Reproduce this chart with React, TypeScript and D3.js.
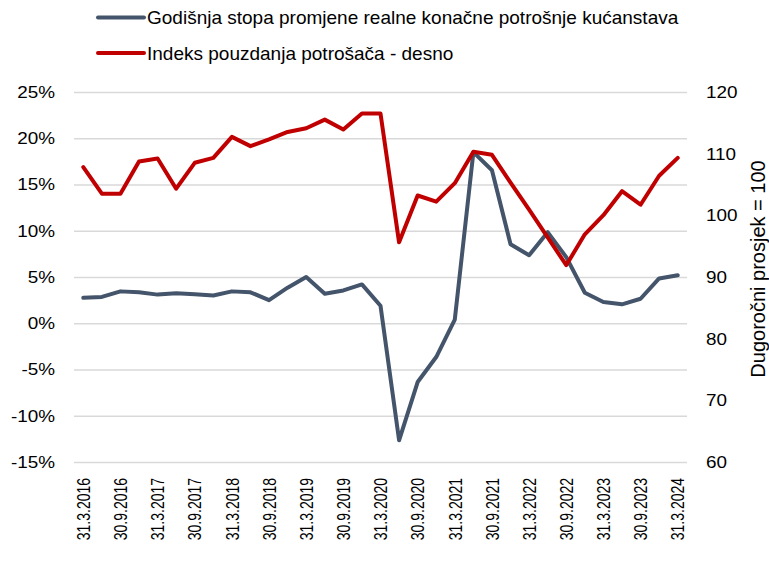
import React from "react";
import * as d3 from "d3";

const categories = [
  "31.3.2016","30.6.2016","30.9.2016","31.12.2016",
  "31.3.2017","30.6.2017","30.9.2017","31.12.2017",
  "31.3.2018","30.6.2018","30.9.2018","31.12.2018",
  "31.3.2019","30.6.2019","30.9.2019","31.12.2019",
  "31.3.2020","30.6.2020","30.9.2020","31.12.2020",
  "31.3.2021","30.6.2021","30.9.2021","31.12.2021",
  "31.3.2022","30.6.2022","30.9.2022","31.12.2022",
  "31.3.2023","30.6.2023","30.9.2023","31.12.2023",
  "31.3.2024",
];

const consumptionGrowth = [
  2.8, 2.9, 3.5, 3.4, 3.15, 3.3, 3.2, 3.05, 3.5, 3.4, 2.55, 3.9,
  5.05, 3.25, 3.6, 4.25, 1.95, -12.6, -6.3, -3.6, 0.45, 18.55,
  16.6, 8.6, 7.4, 9.9, 7.2, 3.35, 2.35, 2.1, 2.7, 4.9, 5.25,
];

const confidenceIndex = [
  107.9, 103.6, 103.6, 108.8, 109.3, 104.4, 108.6, 109.4, 112.8, 111.3,
  112.4, 113.6, 114.2, 115.6, 114.0, 116.6, 116.6, 95.7, 103.3, 102.3,
  105.3, 110.4, 109.9, 105.4, 101.0, 96.5, 92.0, 97.0, 100.1, 104.0,
  101.8, 106.5, 109.4,
];

const leftTicks = [-15, -10, -5, 0, 5, 10, 15, 20, 25];
const rightTicks = [60, 70, 80, 90, 100, 110, 120];

const seriesNames = [
  "Godišnja stopa promjene realne konačne potrošnje kućanstava",
  "Indeks pouzdanja potrošača - desno",
];
const rightTitle = "Dugoročni prosjek = 100";

const W = 769;
const H = 564;
const plotLeft = 74;
const plotRight = 687;
const plotTop = 92.5;
const plotBottom = 462.5;
const BLUE = "#44546A";
const RED = "#C00000";
const FONT = "'Liberation Sans', Arial, sans-serif";
const SX = 1.18;

export default function App() {
  const x = d3
    .scaleBand<string>()
    .domain(categories)
    .range([plotLeft, plotRight]);
  const cx = (c: string) => (x(c) as number) + x.bandwidth() / 2;
  const yL = d3.scaleLinear().domain([-15, 25]).range([plotBottom, plotTop]);
  const yR = d3.scaleLinear().domain([60, 120]).range([plotBottom, plotTop]);

  const blueLine = d3
    .line<number>()
    .x((_, i) => cx(categories[i]))
    .y((d) => yL(d))(consumptionGrowth) as string;
  const redLine = d3
    .line<number>()
    .x((_, i) => cx(categories[i]))
    .y((d) => yR(d))(confidenceIndex) as string;

  return (
    <svg
      width={W}
      height={H}
      style={{ position: "absolute", left: 0, top: 0, background: "#fff" }}
      fontFamily={FONT}
    >
      <rect x={0} y={0} width={W} height={H} fill="#fff" />
      {leftTicks.map((t) => (
        <line
          key={"g" + t}
          x1={plotLeft}
          x2={plotRight}
          y1={yL(t)}
          y2={yL(t)}
          stroke="#D9D9D9"
          strokeWidth={1.6}
        />
      ))}
      {leftTicks.map((t) => (
        <text
          key={"l" + t}
          transform={`translate(55,${yL(t)}) scale(${SX},1)`}
          textAnchor="end"
          dominantBaseline="central"
          fontSize={16}
          fill="#000"
        >
          {t + "%"}
        </text>
      ))}
      {rightTicks.map((t) => (
        <text
          key={"r" + t}
          transform={`translate(706,${yR(t)}) scale(${SX},1)`}
          textAnchor="start"
          dominantBaseline="central"
          fontSize={16}
          fill="#000"
        >
          {t}
        </text>
      ))}
      <text
        transform={`translate(758,269) rotate(-90)`}
        textAnchor="middle"
        dominantBaseline="central"
        fontSize={20}
        fill="#000"
      >
        {rightTitle}
      </text>
      {categories.map((c, i) =>
        i % 2 === 0 ? (
          <text
            key={"x" + c}
            transform={`translate(${cx(c)},478) rotate(-90) scale(1,1.3)`}
            textAnchor="end"
            dominantBaseline="central"
            fontSize={14}
            fill="#000"
          >
            {c}
          </text>
        ) : null
      )}
      <path
        d={blueLine}
        fill="none"
        stroke={BLUE}
        strokeWidth={4}
        strokeLinejoin="round"
        strokeLinecap="round"
      />
      <path
        d={redLine}
        fill="none"
        stroke={RED}
        strokeWidth={4}
        strokeLinejoin="round"
        strokeLinecap="round"
      />
      {/* legend */}
      <line x1={98} x2={144} y1={17.5} y2={17.5} stroke={BLUE} strokeWidth={4} strokeLinecap="round" />
      <text x={147} y={17.5} dominantBaseline="central" fontSize={19} fill="#000">
        {seriesNames[0]}
      </text>
      <line x1={98} x2={144} y1={53} y2={53} stroke={RED} strokeWidth={4} strokeLinecap="round" />
      <text x={147} y={53} dominantBaseline="central" fontSize={19} fill="#000">
        {seriesNames[1]}
      </text>
    </svg>
  );
}
